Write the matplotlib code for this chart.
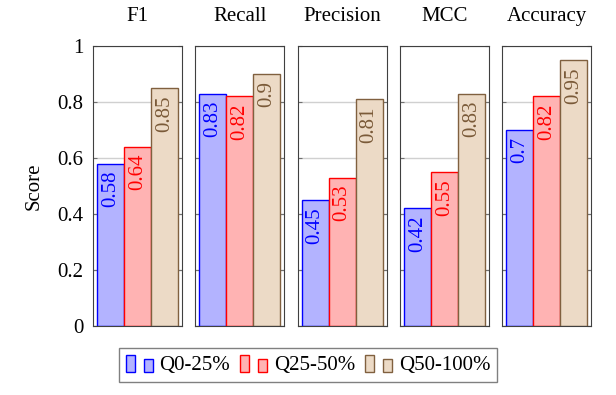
import matplotlib
matplotlib.use("Agg")
import matplotlib.pyplot as plt
from matplotlib.patches import Rectangle
from matplotlib.legend_handler import HandlerBase

plt.rcParams['font.family'] = ['Liberation Serif', 'DejaVu Serif']

metrics = ['F1', 'Recall', 'Precision', 'MCC', 'Accuracy']
groups = ['Q0-25%', 'Q25-50%', 'Q50-100%']
q0_25 = [0.58, 0.83, 0.45, 0.42, 0.70]
q25_50 = [0.64, 0.82, 0.53, 0.55, 0.82]
q50_100 = [0.85, 0.90, 0.81, 0.83, 0.95]
labels_txt = [['0.58', '0.64', '0.85'], ['0.83', '0.82', '0.9'],
              ['0.45', '0.53', '0.81'], ['0.42', '0.55', '0.83'],
              ['0.7', '0.82', '0.95']]

fills = ['#b3b3ff', '#ffb3b3', '#ecdac6']
edges = ['#0000ff', '#ff0000', '#80603f']
txtcol = ['#0000ff', '#ff0000', '#7a5a38']
FS = 15


class TwoBars(HandlerBase):
    """pgfplots style legend image: a tall bar and a short one"""
    def create_artists(self, legend, orig, xd, yd, w, h, fontsize, trans):
        fc, ec = orig.get_facecolor(), orig.get_edgecolor()
        r1 = Rectangle((xd, yd - 0.15 * h), w * 0.33, h * 1.15, fc=fc, ec=ec, lw=1, transform=trans)
        r2 = Rectangle((xd + w * 0.67, yd - 0.15 * h), w * 0.33, h * 0.9, fc=fc, ec=ec, lw=1, transform=trans)
        return [r1, r2]


fig = plt.figure(figsize=(6.16, 3.95), dpi=100)
left0, width, gap = 93 / 616, 89 / 616, 102.3 / 616
bottom, height = (395 - 326) / 395, 280 / 395

data = list(zip(q0_25, q25_50, q50_100))
handles = []
for i, m in enumerate(metrics):
    ax = fig.add_axes([left0 + i * gap, bottom, width, height])
    vals = data[i]
    for j in range(3):
        b = ax.bar(j, vals[j], width=1.0, color=fills[j], edgecolor=edges[j], linewidth=1, zorder=2)
        if i == 0:
            handles.append(b.patches[0])
        ax.text(j, vals[j] - 0.025, labels_txt[i][j], rotation=90, ha='center', va='top',
                color=txtcol[j], fontsize=FS, zorder=3)
    ax.set_xlim(-0.65, 2.65)
    ax.set_ylim(0, 1)
    ax.set_xticks([])
    ax.set_yticks([0, 0.2, 0.4, 0.6, 0.8, 1])
    ax.set_yticklabels(['0', '0.2', '0.4', '0.6', '0.8', '1'])
    ax.yaxis.grid(True, color='#d0d0d0', lw=1, zorder=0)
    ax.set_axisbelow(True)
    ax.tick_params(axis='y', direction='in', length=3, right=True, color='#707070',
                   labelsize=FS, pad=7)
    if i > 0:
        ax.tick_params(axis='y', labelleft=False)
    else:
        ax.set_ylabel('Score', fontsize=FS, labelpad=10)
    for s in ax.spines.values():
        s.set_color('#404040')
    ax.set_title(m, fontsize=FS, pad=18)

fig.legend(handles, groups, handler_map={h: TwoBars() for h in handles},
           loc='center', bbox_to_anchor=(308 / 616, 1 - 365 / 395), ncol=3,
           fontsize=FS, frameon=True, fancybox=False, edgecolor='#606060',
           handlelength=1.3, handletextpad=0.3, columnspacing=0.5, borderpad=0.35)

fig.savefig('out.png', dpi=100)
